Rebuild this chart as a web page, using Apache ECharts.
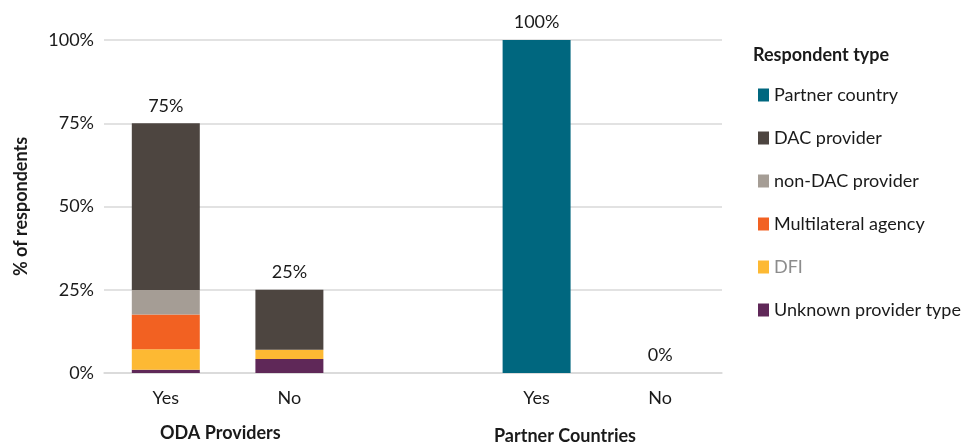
<!DOCTYPE html>
<html>
<head>
<meta charset="utf-8">
<script src="https://cdn.jsdelivr.net/npm/echarts@6/dist/echarts.min.js"></script>
<style>
  html, body { margin: 0; padding: 0; background: #fff; }
  #chart { width: 966px; height: 444px; }
</style>
</head>
<body>
<div id="chart"></div>
<script>
// Answer categories (blank slot separates the two respondent groups)
const categories = ['Yes', 'No', '', 'Yes', 'No'];
const groupLabels = ['ODA Providers', 'Partner Countries'];
const yTicks = [0, 25, 50, 75, 100];

// Share of respondents (%) by respondent type
const unknownProvider = [1.0, 4.2, null, 0, 0];
const dfi             = [6.1, 2.8, null, 0, 0];
const multilateral    = [10.5, 0, null, 0, 0];
const nonDacProvider  = [7.3, 0, null, 0, 0];
const dacProvider     = [50.1, 18.0, null, 0, 0];
const partnerCountry  = [0, 0, null, 100, 0];

// Bar totals shown above each stack
const totals = categories.map((c, i) => {
  if (c === '') return null;
  const s = [unknownProvider, dfi, multilateral, nonDacProvider, dacProvider, partnerCountry]
    .reduce((acc, arr) => acc + (arr[i] || 0), 0);
  return Math.round(s);
});

const FONT = 'Lato';
const INK = '#1a1a1a';
const chart = echarts.init(document.getElementById('chart'), null, { renderer: 'canvas' });

function stackSeries(name, data, color) {
  return {
    name, type: 'bar', stack: 'share', data,
    barWidth: '55%',
    itemStyle: { color },
    emphasis: { disabled: true }
  };
}

chart.setOption({
  animation: false,
  textStyle: { fontFamily: FONT },
  grid: { left: 104, right: 244, top: 40, bottom: 71 },
  xAxis: {
    type: 'category',
    data: categories,
    axisLine: { show: true, lineStyle: { color: '#d9d9d9', width: 1.5 } },
    axisTick: { show: false },
    axisLabel: { color: INK, fontSize: 18, fontFamily: FONT, margin: 16 }
  },
  yAxis: {
    type: 'value',
    min: yTicks[0], max: yTicks[yTicks.length - 1], interval: 25,
    name: '% of respondents',
    nameLocation: 'middle',
    nameGap: 74,
    nameTextStyle: { color: INK, fontSize: 18, fontWeight: 'bold', fontFamily: FONT },
    axisLine: { show: false },
    axisTick: { show: false },
    axisLabel: { formatter: '{value}%', color: INK, fontSize: 18, fontFamily: FONT, margin: 10 },
    splitLine: { lineStyle: { color: '#d9d9d9', width: 1.5 } }
  },
  legend: {
    orient: 'vertical',
    left: 753, top: 81,
    itemWidth: 11, itemHeight: 13,
    itemGap: 25,
    icon: 'rect',
    textStyle: { color: INK, fontSize: 18, fontFamily: FONT },
    data: [
      'Partner country', 'DAC provider', 'non-DAC provider', 'Multilateral agency',
      { name: 'DFI', textStyle: { color: '#8c8c8c' } },
      'Unknown provider type'
    ]
  },
  graphic: [
    { type: 'text', left: 753, top: 46,
      style: { text: 'Respondent type', font: 'bold 18px Lato', fill: INK } },
    { type: 'text', left: 160, top: 424,
      style: { text: groupLabels[0], font: 'bold 18px Lato', fill: INK } },
    { type: 'text', left: 494, top: 427,
      style: { text: groupLabels[1], font: 'bold 18px Lato', fill: INK } }
  ],
  series: [
    stackSeries('Unknown provider type', unknownProvider, '#5F2858'),
    stackSeries('DFI', dfi, '#FDB933'),
    stackSeries('Multilateral agency', multilateral, '#F26122'),
    stackSeries('non-DAC provider', nonDacProvider, '#A59D95'),
    stackSeries('DAC provider', dacProvider, '#4D4540'),
    stackSeries('Partner country', partnerCountry, '#00677F'),
    {
      name: 'Total', type: 'scatter', data: totals,
      symbolSize: 1, itemStyle: { color: 'rgba(0,0,0,0)', opacity: 1 },
      label: {
        show: true, position: 'top', distance: 8,
        formatter: p => p.value + '%',
        color: INK, fontSize: 18, fontFamily: FONT
      },
      emphasis: { disabled: true },
      z: 10
    }
  ]
});
</script>
</body>
</html>
